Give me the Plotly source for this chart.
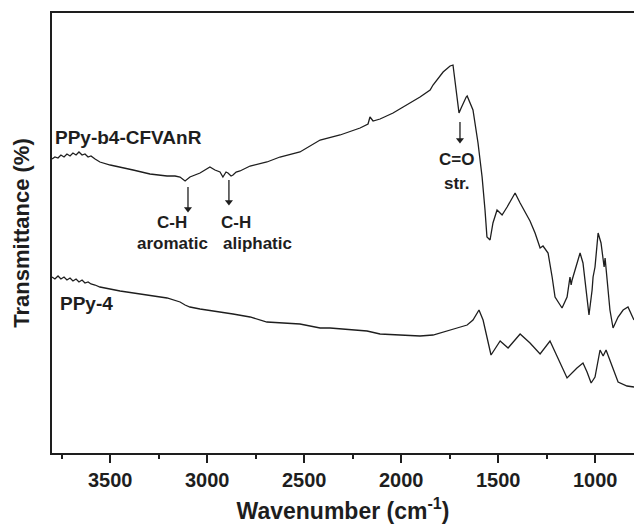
import plotly.graph_objects as go

# ---------------- data ----------------
top_wn = [3800, 3785, 3769, 3754, 3738, 3723, 3707, 3692, 3676, 3661, 3645, 3630, 3614, 3599,
          3578, 3553, 3500, 3449, 3382, 3295, 3207, 3166, 3140, 3114, 3089, 3037, 2986, 2960,
          2934, 2919, 2903, 2893, 2877, 2867, 2851, 2831, 2779, 2692, 2625, 2522, 2418, 2315,
          2212, 2171, 2161, 2145, 2109, 2042, 1970, 1903, 1851, 1836, 1784, 1764, 1748, 1733,
          1712, 1702, 1691, 1681, 1665, 1660, 1630, 1604, 1583, 1568, 1558, 1542, 1527, 1506,
          1480, 1454, 1434, 1413, 1387, 1362, 1336, 1310, 1284, 1269, 1243, 1222, 1207, 1171,
          1145, 1130, 1124, 1119, 1104, 1078, 1063, 1047, 1032, 1016, 1013, 1011, 1001, 990,
          985, 970, 959, 954, 949, 939, 924, 908, 882, 856, 831, 805, 800]
top_val = [294, 296, 295, 298, 296, 299, 297, 300, 298, 301, 298, 299, 296, 297,
           294, 291, 288, 286, 283, 279, 277, 277, 276, 272, 276, 280, 286, 283,
           281, 276, 281, 280, 277, 278, 281, 282, 287, 291, 296, 301, 313, 318,
           325, 329, 336, 332, 334, 340, 348, 356, 363, 368, 381, 384, 387, 388,
           356, 340, 345, 350, 356, 357, 343, 310, 276, 243, 216, 213, 230, 243,
           238, 246, 253, 260, 250, 241, 232, 220, 205, 207, 200, 176, 156, 145,
           156, 176, 168, 173, 183, 200, 190, 163, 138, 163, 172, 176, 186, 210,
           220, 210, 193, 186, 195, 176, 143, 125, 136, 143, 146, 135, 133]

bot_wn = [3800, 3785, 3769, 3754, 3738, 3723, 3707, 3692, 3676, 3661, 3645, 3630, 3614, 3599,
          3578, 3553, 3449, 3382, 3295, 3207, 3140, 3114, 3089, 3037, 2867, 2779, 2692, 2522,
          2418, 2367, 2176, 2109, 1903, 1836, 1712, 1660, 1630, 1599, 1578, 1537, 1490, 1449,
          1387, 1336, 1284, 1233, 1145, 1094, 1063, 1042, 1021, 1001, 975, 959, 944, 913,
          882, 836, 800]
bot_val = [176, 174, 177, 174, 176, 173, 175, 172, 174, 171, 173, 170, 171, 169,
           168, 166, 162, 160, 157, 155, 151, 148, 146, 144, 139, 136, 131, 129,
           125, 125, 122, 119, 117, 118, 125, 128, 133, 143, 133, 98, 112, 105,
           119, 110, 99, 112, 75, 85, 90, 81, 70, 76, 103, 97, 103, 86,
           71, 67, 66]

x_ticks = [3500, 3000, 2500, 2000, 1500, 1000]

# series labels: (text, wavenumber, value)
series_labels = [
    ("PPy-b4-CFVAnR", 3795, 316),
    ("PPy-4", 3769, 150),
]
# band labels: (text, wavenumber, value)
band_labels = [
    ("C-H", 3181, 231),
    ("aromatic", 3181, 210),
    ("C-H", 2851, 231),
    ("aliphatic", 2743, 210),
    ("C=O", 1717, 294),
    ("str.", 1712, 270),
]
# arrows: (wavenumber, tail value, head value)
arrow_wn = [3099, 2888, 1697]
arrow_tail = [266, 273, 331]
arrow_head = [241, 248, 310]

FONT = "Liberation Sans, Arial, Helvetica, sans-serif"
INK = "#1e1e1e"

fig = go.Figure()
fig.add_trace(go.Scatter(x=top_wn, y=top_val, mode="lines", name="PPy-b4-CFVAnR",
                         line=dict(color=INK, width=1.3)))
fig.add_trace(go.Scatter(x=bot_wn, y=bot_val, mode="lines", name="PPy-4",
                         line=dict(color=INK, width=1.3)))

# arrows: shaft + downward triangle head
for x, y0, y1 in zip(arrow_wn, arrow_tail, arrow_head):
    fig.add_trace(go.Scatter(x=[x, x], y=[y0, y1 + 4], mode="lines",
                             line=dict(color=INK, width=1.3), hoverinfo="skip"))
fig.add_trace(go.Scatter(x=arrow_wn, y=[h + 3 for h in arrow_head], mode="markers",
                         marker=dict(symbol="triangle-down", size=7, color=INK),
                         hoverinfo="skip"))

for text, x, y in series_labels:
    fig.add_annotation(x=x, y=y, xref="x", yref="y", text=f"<b>{text}</b>",
                       showarrow=False, xanchor="left", yanchor="middle",
                       font=dict(family=FONT, size=19, color=INK))
for text, x, y in band_labels:
    fig.add_annotation(x=x, y=y, xref="x", yref="y", text=f"<b>{text}</b>",
                       showarrow=False, xanchor="center", yanchor="middle",
                       font=dict(family=FONT, size=17, color=INK))

fig.update_layout(
    width=634, height=526,
    margin=dict(l=52, r=0, t=13, b=73),
    plot_bgcolor="white", paper_bgcolor="white",
    showlegend=False,
    font=dict(family=FONT, color=INK),
    xaxis=dict(
        range=[3800, 800], tickvals=x_ticks,
        ticks="outside", ticklen=8, tickwidth=1.5, tickcolor=INK,
        minor=dict(dtick=250, tick0=0, ticks="outside", ticklen=4, tickwidth=1.5, tickcolor=INK),
        showline=True, linecolor=INK, linewidth=2, mirror=True,
        showgrid=False, zeroline=False,
        tickfont=dict(family=FONT, size=20, color=INK, weight="bold"),
        title=dict(text="<b>Wavenumber (cm<sup>-1</sup>)</b>", standoff=13,
                   font=dict(family=FONT, size=23, color=INK)),
    ),
    yaxis=dict(
        range=[0, 440], showticklabels=False, ticks="",
        showline=True, linecolor=INK, linewidth=2, mirror=False,
        showgrid=False, zeroline=False,
        title=dict(text="<b>Transmittance (%)</b>", standoff=14,
                   font=dict(family=FONT, size=22, color=INK)),
    ),
)

fig.write_html("out.html")
